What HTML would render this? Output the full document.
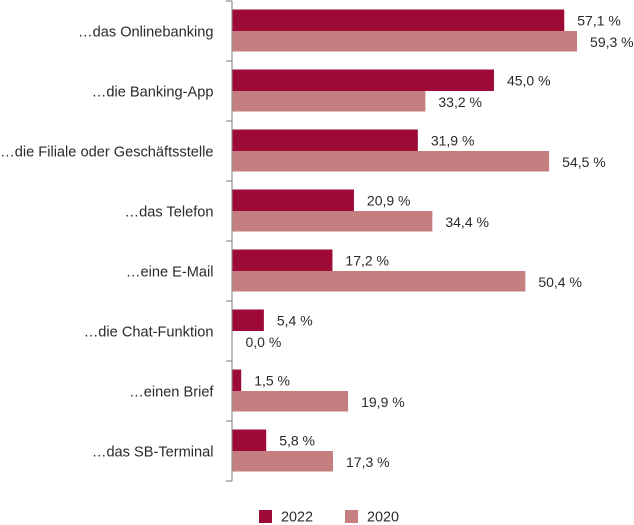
<!DOCTYPE html>
<html>
<head>
<meta charset="utf-8">
<style>
html,body{margin:0;padding:0;background:#fff;}
svg{display:block;}
text{font-family:"Liberation Sans",sans-serif;font-size:14px;fill:#2b2a29;}
text.cat{font-size:14.6px;}
text.leg{font-size:14.4px;}
</style>
</head>
<body>
<svg id="chart" width="634" height="525" viewBox="0 0 634 525" xmlns="http://www.w3.org/2000/svg"></svg>
<script>
const categories = ["…das Onlinebanking","…die Banking-App","…die Filiale oder Geschäftsstelle","…das Telefon","…eine E-Mail","…die Chat-Funktion","…einen Brief","…das SB-Terminal"];
const series2022 = [57.1,45.0,31.9,20.9,17.2,5.4,1.5,5.8];
const series2020 = [59.3,33.2,54.5,34.4,50.4,0.0,19.9,17.3];
const legendLabels = ["2022","2020"];

const NS = "http://www.w3.org/2000/svg";
const svg = document.getElementById("chart");
const X0 = 232.5, PX = 5.81, ROW0 = 1, ROW = 60;
const COLORS = ["#9c0a35","#c57f80"];
const xScale = v => X0 + v * PX;
const rowTop = i => ROW0 + i * ROW;
function el(tag, attrs, text){
  const e = document.createElementNS(NS, tag);
  for (const k in attrs) e.setAttribute(k, attrs[k]);
  if (text !== undefined) e.textContent = text;
  svg.appendChild(e);
  return e;
}
const fmt = v => v.toFixed(1).replace(".", ",") + " %";

const axis = el("line",{x1:232,x2:232,y1:rowTop(0),y2:rowTop(categories.length),stroke:"#8f8f8f","stroke-width":1.2});



for (let i = 0; i <= categories.length; i++) {
  const t = el("line",{x1:226,x2:232,y1:rowTop(i),y2:rowTop(i),stroke:"#8f8f8f","stroke-width":1.2});
  
  
}

categories.forEach((c, i) => {
  const y = rowTop(i);
  const lab = el("text",{x:213.5,y:y+35.5,"text-anchor":"end","class":"cat"},c);
  
  

  const a = el("rect",{x:X0,y:y+8.5,width:xScale(series2022[i])-X0,height:21.5,fill:COLORS[0]});
  
  

  const b = el("rect",{x:X0,y:y+30,width:xScale(series2020[i])-X0,height:20.5,fill:COLORS[1]});
  
  

  const va = el("text",{x:xScale(series2022[i])+13,y:y+24.5},fmt(series2022[i]));
  
  

  const vb = el("text",{x:xScale(series2020[i])+13,y:y+46},fmt(series2020[i]));
  
  
});

legendLabels.forEach((l, i) => {
  const lx = 259 + i * 86;
  const s = el("rect",{x:lx,y:510,width:13,height:13,fill:COLORS[i]});
  
  
  const t = el("text",{x:lx+22,y:521.5,"class":"leg"},l);
  
  
});
</script>
</body>
</html>
